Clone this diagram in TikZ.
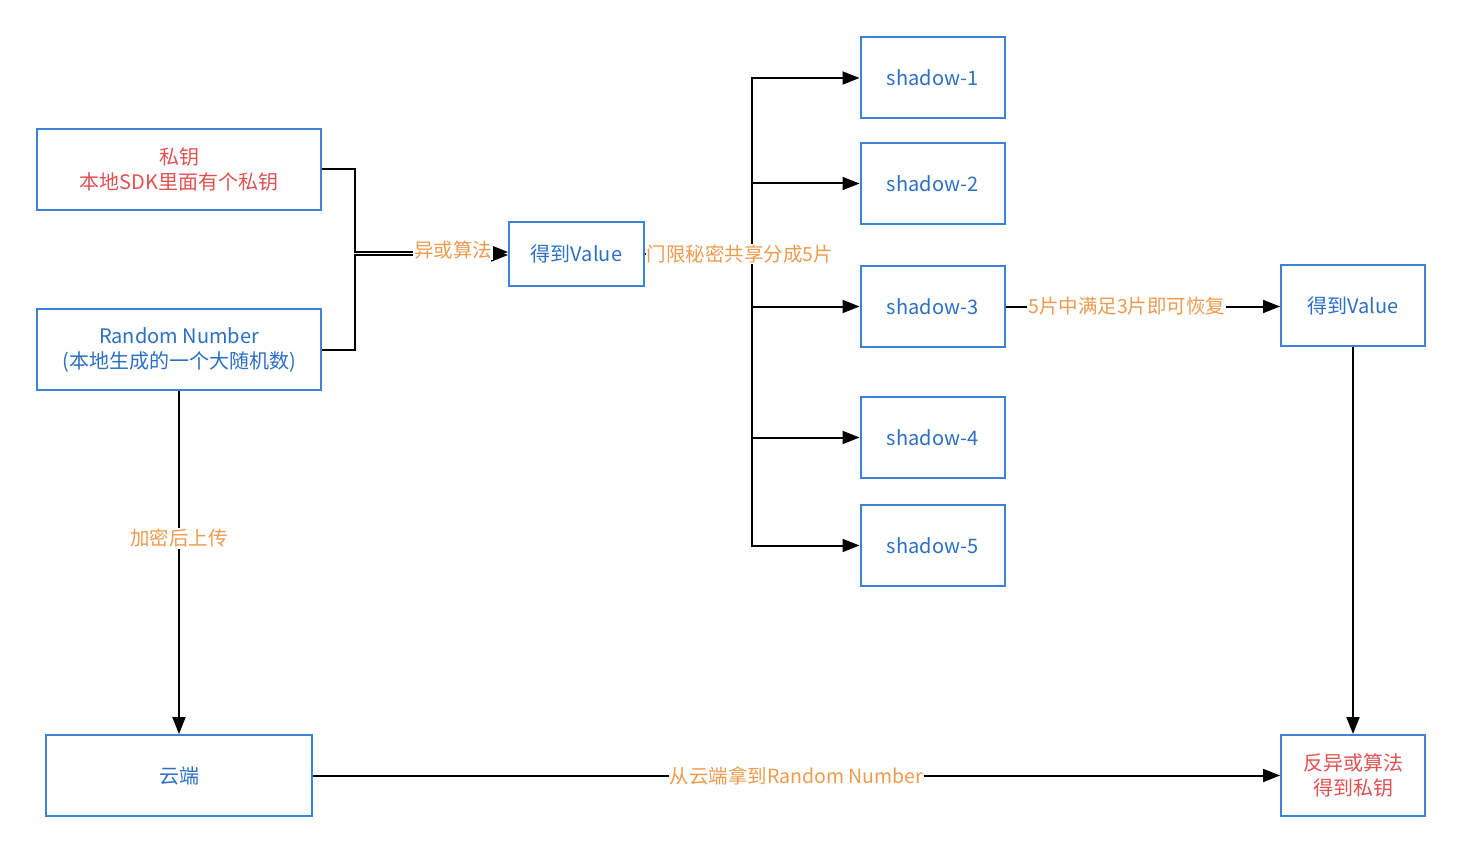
\documentclass[tikz,border=0pt]{standalone}
\usepackage{fontspec}
\setmainfont{Noto Sans CJK SC}
\usetikzlibrary{arrows.meta}
\definecolor{boxblue}{HTML}{3A83D6}
\definecolor{txtblue}{HTML}{2B70C4}
\definecolor{txtred}{HTML}{E05252}
\definecolor{txtorange}{HTML}{EE9B50}
\tikzset{
  bx/.style={draw=boxblue, line width=2pt, fill=white, minimum width=#1, minimum height=81pt, inner sep=0pt, align=center, font=\fontsize{20}{25}\selectfont, text=txtblue},
  bx/.default=144pt,
  conn/.style={draw=black, line width=2pt},
  arr/.style={conn, -{Triangle[length=17pt,width=13pt]}},
  lbl/.style={fill=white, inner sep=1pt, text=txtorange, font=\fontsize{19.5}{25}\selectfont},
}
\begin{document}
\begin{tikzpicture}[x=1pt,y=-1pt]
\useasboundingbox (0,0) rectangle (1462,853);
% boxes
\node[bx=284pt, text=txtred] (pk) at (179,169.5) {私钥\\本地SDK里面有个私钥};
\node[bx=284pt] (rn) at (179,349.5) {Random Number\\(本地生成的一个大随机数)};
\node[bx=135pt, minimum height=64pt] (v1) at (576.5,254) {得到Value};
\node[bx] (s1) at (932.5,78) {shadow-1};
\node[bx] (s2) at (932.5,183.5) {shadow-2};
\node[bx] (s3) at (932.5,306.5) {shadow-3};
\node[bx] (s4) at (932.5,437.5) {shadow-4};
\node[bx] (s5) at (932.5,545.5) {shadow-5};
\node[bx] (v2) at (1353,305.5) {得到Value};
\node[bx=266pt] (cloud) at (179,775.5) {云端};
\node[bx, text=txtred] (rev) at (1353,775.5) {反异或算法\\得到私钥};
% coordinates
\coordinate (j1) at (355,252);
\coordinate (j2) at (355,255);
\coordinate (sp) at (752,254);
% xor merge
\draw[arr] (pk.east) -| (j1) -- (j1 -| v1.west);
\draw[arr] (rn.east) -| (j2) -- (j2 -| v1.west);
\node[lbl] (xl) at (453,250) {异或算法};
% split
\draw[conn] (v1.east) -- (sp);
\draw[arr] (sp) |- (s1.west);
\draw[arr] (sp) |- (s2.west);
\draw[arr] (sp) |- (s3.west);
\draw[arr] (sp) |- (s4.west);
\draw[arr] (sp) |- (s5.west);
\node[lbl] (sl) at (740,254) {门限秘密共享分成5片};
% recover
\draw[arr] (s3.east) -- (s3.east -| v2.west) node[lbl, midway, xshift=-16pt] (rl) {5片中满足3片即可恢复};
\draw[arr] (v2.south) -- (rev.north);
\draw[arr] (rn.south) -- (cloud.north) node[lbl, pos=0.43] (ul) {加密后上传};
\draw[arr] (cloud.east) -- (rev.west) node[lbl, pos=0.5] (cl) {从云端拿到Random Number};
\end{tikzpicture}
\end{document}
